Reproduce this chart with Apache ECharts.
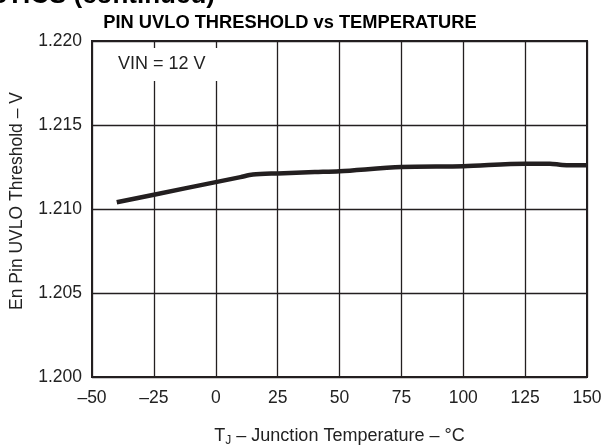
<!DOCTYPE html>
<html>
<head>
<meta charset="utf-8">
<script src="https://cdn.jsdelivr.net/npm/echarts@6/dist/echarts.min.js"></script>
<style>
  html, body { margin: 0; padding: 0; background: #fff; }
  #chart { width: 613px; height: 448px; }
</style>
</head>
<body>
<div id="chart"></div>
<script>
// junction temperature (°C) and measured threshold (V)
const temps = [-40, -25, 0, 10, 15, 25, 40, 50, 75, 100, 125, 135, 140, 150]
const threshold = [1.2104, 1.21085, 1.2116, 1.2119, 1.21205, 1.21212, 1.2122, 1.21225, 1.2125, 1.21255, 1.2127, 1.2127, 1.21262, 1.2126]
const xTicks = [-50, -25, 0, 25, 50, 75, 100, 125, 150]
const yTicks = [1.200, 1.205, 1.210, 1.215, 1.220]

const ink = '#231f20'
const font = 'Liberation Sans, Arial, sans-serif'

let chart = echarts.init(document.getElementById('chart'))
chart.setOption({
  animation: false,
  backgroundColor: '#fff',
  title: {
    text: 'PIN UVLO THRESHOLD vs TEMPERATURE',
    left: 285,
    top: 9,
    textAlign: 'center',
    textStyle: { fontFamily: font, fontSize: 18.3, fontWeight: 'bold', color: '#000' }
  },
  grid: {
    left: 92,
    right: 26,
    top: 41,
    bottom: 71,
    outerBoundsMode: 'none',
    containLabel: false,
    show: true,
    borderColor: ink,
    borderWidth: 2
  },
  xAxis: {
    type: 'value',
    min: xTicks[0],
    max: xTicks[xTicks.length - 1],
    interval: 25,
    name: '{t|T}{s|J}{t| – Junction Temperature – °C}',
    nameLocation: 'middle',
    nameGap: 49,
    nameTextStyle: {
      rich: {
        t: { fontFamily: font, fontSize: 18, color: '#222' },
        s: { fontFamily: font, fontSize: 12, color: '#222', padding: [9, 0, 0, 0] }
      }
    },
    axisLine: { onZero: false, lineStyle: { color: ink, width: 2 } },
    axisTick: { show: false },
    axisLabel: {
      margin: 12,
      fontFamily: font,
      fontSize: 17.5,
      color: '#222',
      formatter: v => v < 0 ? '–' + Math.abs(v) : String(v)
    },
    splitLine: { show: true, lineStyle: { color: ink, width: 1.3 } }
  },
  yAxis: {
    type: 'value',
    min: yTicks[0],
    max: yTicks[yTicks.length - 1],
    interval: 0.005,
    name: 'En Pin UVLO Threshold – V',
    nameLocation: 'middle',
    nameGap: 66,
    nameTextStyle: { fontFamily: font, fontSize: 17.5, color: '#222', padding: [0, 0, 0, 16] },
    axisLine: { show: true, onZero: false, lineStyle: { color: ink, width: 2 } },
    axisTick: { show: false },
    axisLabel: {
      margin: 10,
      fontFamily: font,
      fontSize: 17.5,
      color: '#222',
      formatter: v => v.toFixed(3)
    },
    splitLine: { show: true, lineStyle: { color: ink, width: 1.3 } }
  },
  graphic: [
    {
      type: 'text',
      right: 398,
      top: -17,
      z: 20,
      style: {
        text: 'ISTICS (continued)',
        font: 'bold 26px Liberation Sans, Arial, sans-serif',
        fill: '#000'
      }
    },
    {
      type: 'rect',
      left: 104,
      top: 48,
      z: 20,
      shape: { width: 124, height: 33 },
      style: { fill: '#fff' }
    },
    {
      type: 'text',
      left: 118,
      top: 55,
      z: 21,
      style: {
        text: 'VIN = 12 V',
        font: '18px Liberation Sans, Arial, sans-serif',
        fill: '#222'
      }
    }
  ],
  series: [
    {
      type: 'line',
      data: temps.map((t, i) => [t, threshold[i]]),
      smooth: 0.3,
      showSymbol: false,
      lineStyle: { color: ink, width: 4.5 },
      z: 5
    }
  ]
})
</script>
</body>
</html>
